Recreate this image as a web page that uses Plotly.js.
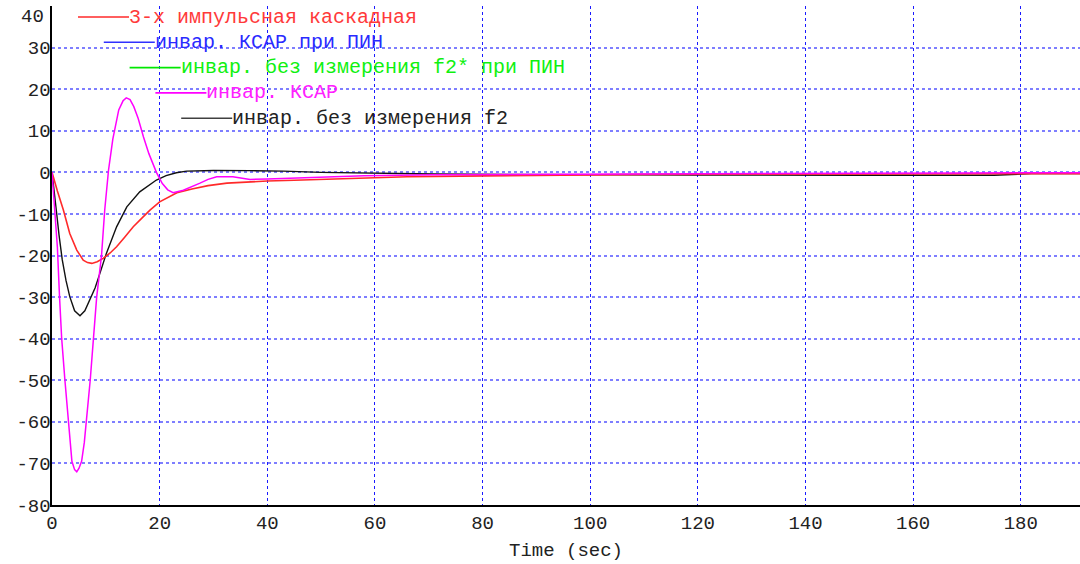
<!DOCTYPE html>
<html>
<head>
<meta charset="utf-8">
<script src="https://cdn.plot.ly/plotly-3.0.1.min.js"></script>
<style>
  html, body { margin: 0; padding: 0; background: #fff; }
  #plot { width: 1080px; height: 564px; }
</style>
</head>
<body>
<div id="plot"></div>
<script>
// Transient responses of the compared control schemes
const seriesNames = [
  '3-х импульсная каскадная',
  'инвар. КСАР при ПИН',
  'инвар. без измерения f2* при ПИН',
  'инвар. КСАР',
  'инвар. без измерения f2'
];
const seriesColors = ['#ff2a2a', '#3030ff', '#00e800', '#ff00ff', '#404040'];
const textColors   = ['#ff3a3a', '#2a2aff', '#10f010', '#ff20ff', '#222222'];

// 3-х импульсная каскадная
const tCascade = [0, 0.5, 1, 2.1, 3.3, 4.6, 5.8, 6.6, 7.4, 8.4, 9.5, 10.8, 12, 13.5, 15.1, 16.7, 18.2, 20, 21.5, 23.2, 26, 29, 32.5, 36, 40, 45, 51, 58.5, 66, 76, 90, 110, 130, 148, 170, 191];
const vCascade = [0, -2, -4.5, -9, -14.7, -18.7, -21.1, -21.7, -21.9, -21.5, -20.7, -19.4, -17.9, -15.6, -13.1, -11, -9.1, -7.1, -6, -4.9, -4, -3.2, -2.6, -2.3, -2.1, -1.9, -1.7, -1.3, -1.05, -0.9, -0.7, -0.5, -0.45, -0.4, -0.35, -0.3];

// инвар. без измерения f2
const tNoF2 = [0, 0.4, 0.87, 1.3, 1.9, 2.6, 3.3, 4.2, 5.2, 6.1, 7.06, 8, 8.9, 10.1, 12, 13.9, 16.3, 19.4, 21.2, 23.1, 25, 30, 36.8, 43, 50, 58, 71, 85, 100, 120, 150, 175, 182, 191];
const vNoF2 = [0, -4, -9.9, -15, -21, -26, -29.9, -33.3, -34.5, -33.3, -30.7, -27.8, -24.3, -19.5, -13.1, -8.3, -4.7, -1.85, -0.8, -0.1, 0.3, 0.45, 0.4, 0.3, 0, -0.2, -0.4, -0.5, -0.6, -0.65, -0.7, -0.7, -0.3, -0.3];

// инвар. КСАР
const tKsar = [0, 0.5, 1, 1.4, 1.8, 2.4, 3.0, 3.7, 4.2, 4.6, 5.0, 5.5, 6.0, 6.4, 7.1, 7.7, 8.3, 9.2, 9.8, 10.5, 10.8, 11.3, 12.4, 13.2, 13.8, 14.5, 15.2, 16, 17, 18, 19.4, 20.5, 21.5, 22.5, 24.4, 26, 27.5, 29, 30.6, 33.6, 36.8, 40, 44, 50, 58, 71, 85, 100, 120, 150, 170, 191];
const vKsar = [0, -8, -18, -30, -40, -50, -60, -69.5, -71.5, -72, -71.2, -69.5, -65, -60, -50, -40, -30, -20, -9, 0.5, 3, 8, 15, 17.2, 17.9, 17.5, 15.8, 13, 8.5, 4.5, 0, -2.7, -4.2, -4.9, -4.3, -3.5, -2.6, -1.7, -1.05, -1.05, -1.7, -1.6, -1.45, -1.05, -0.8, -0.6, -0.5, -0.4, -0.3, -0.2, -0.15, -0.1];

const xTicks = [0, 20, 40, 60, 80, 100, 120, 140, 160, 180];
const yTicks = [-80, -70, -60, -50, -40, -30, -20, -10, 0, 10, 20, 30];
const topTickLabel = '40';

const W = 1080, H = 564;
const M = { l: 52, r: 0, t: 6, b: 59 };
const font = 'Liberation Mono, DejaVu Sans Mono, monospace';

// pixel -> paper helpers for the staggered key
const px = x => (x - M.l) / (W - M.l - M.r);
const py = y => (H - M.b - y) / (H - M.t - M.b);

const traces = [
  { x: tNoF2, y: vNoF2, name: seriesNames[4], line: { color: '#111111', width: 1.4 } },
  { x: tCascade, y: vCascade, name: seriesNames[0], line: { color: seriesColors[0], width: 1.6 } },
  { x: tKsar, y: vKsar, name: seriesNames[3], line: { color: seriesColors[3], width: 1.5 } }
].map(t => Object.assign({ type: 'scatter', mode: 'lines', hoverinfo: 'skip' }, t));

const shapes = [];
const annotations = [];
seriesNames.forEach((name, i) => {
  const x0 = 78 + 25.8 * i, x1 = x0 + 51, y = 17 + 25.3 * i;
  shapes.push({
    type: 'line', xref: 'paper', yref: 'paper',
    x0: px(x0), x1: px(x1), y0: py(y), y1: py(y),
    line: { color: seriesColors[i], width: 1.6 }
  });
  annotations.push({
    xref: 'paper', yref: 'paper', x: px(x1 - 2), y: py(y),
    xanchor: 'left', yanchor: 'middle', showarrow: false,
    text: name, font: { family: font, size: 20, color: textColors[i] }
  });
});
annotations.push({
  xref: 'paper', yref: 'paper', x: px(46), y: py(17),
  xanchor: 'right', yanchor: 'middle', showarrow: false,
  text: topTickLabel, font: { family: font, size: 19, color: '#222' }
});

const layout = {
  width: W, height: H,
  margin: M,
  paper_bgcolor: '#fff', plot_bgcolor: '#fff',
  showlegend: false,
  font: { family: font, size: 19, color: '#222' },
  xaxis: {
    range: [0, 191], tickvals: xTicks, ticktext: xTicks.map(String),
    showgrid: true, gridcolor: '#1a1aff', griddash: 'dot', gridwidth: 1,
    zeroline: false, showline: true, linecolor: '#000', linewidth: 1.6,
    ticks: '', ticklen: 0, ticklabelstandoff: 0,
    title: { text: 'Time (sec)', font: { family: font, size: 19, color: '#222' }, standoff: 8 }
  },
  yaxis: {
    range: [-80, 40], tickvals: yTicks, ticktext: yTicks.map(String),
    showgrid: true, gridcolor: 'rgba(40,40,255,0.6)', griddash: 'dot', gridwidth: 2,
    zeroline: false, showline: true, linecolor: '#000', linewidth: 1.6,
    ticks: '', ticklen: 0, ticklabelstandoff: -4
  },
  shapes: shapes,
  annotations: annotations
};

Plotly.newPlot('plot', traces, layout, { displayModeBar: false, staticPlot: true });
</script>
</body>
</html>
